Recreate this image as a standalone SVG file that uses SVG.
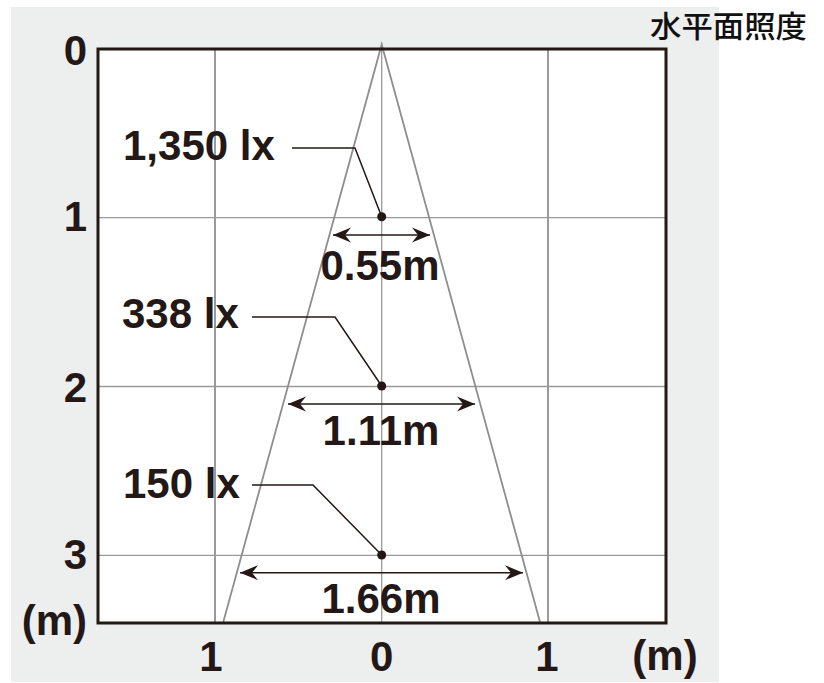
<svg xmlns="http://www.w3.org/2000/svg" width="824" height="683" viewBox="0 0 824 683">
  <style>
    .lbl { font-family: "Liberation Sans", Arial, "Noto Sans CJK JP", sans-serif; font-weight: bold; font-size: 42px; fill: #231815; }
    .grid { stroke: #9a9a9a; fill: none; }
    .cone { stroke: #8e8e8e; stroke-width: 1.8; fill: none; }
    .lead { stroke: #231815; stroke-width: 1.5; fill: none; }
    .dim { stroke: #231815; stroke-width: 1.6; fill: none; marker-start: url(#ah); marker-end: url(#ah); }
    .dot { fill: #231815; }
    .title { font-family: "Noto Sans CJK JP", "Noto Sans CJK SC", sans-serif; font-size: 30px; font-weight: 500; fill: #111111; }
  </style>
  <defs>
    <marker id="ah" markerUnits="userSpaceOnUse" viewBox="-19 -9 20 18" refX="0" refY="0" markerWidth="20" markerHeight="18" orient="auto-start-reverse">
      <path d="M0,0 L-18,-7.5 L-12,0 L-18,7.5 Z" fill="#231815"/>
    </marker>
  </defs>

  <rect x="11" y="7" width="708" height="675" fill="#edeeee"/>
  <rect x="98" y="49" width="568" height="574" fill="#ffffff"/>

  <g id="grid">
    <line class="grid" x1="98" y1="217.7" x2="666" y2="217.7" stroke-width="1.3"/>
    <line class="grid" x1="98" y1="386.5" x2="666" y2="386.5" stroke-width="1.3"/>
    <line class="grid" x1="98" y1="555.3" x2="666" y2="555.3" stroke-width="1.3"/>
    <line class="grid" x1="215" y1="49" x2="215" y2="623" stroke-width="2"/>
    <line class="grid" x1="381.7" y1="49" x2="381.7" y2="623" stroke-width="1.3"/>
    <line class="grid" x1="548" y1="49" x2="548" y2="623" stroke-width="2"/>
  </g>

  <g id="cone">
    <polyline class="cone" points="223.3,622 381.7,44.5 540,622"/>
  </g>

  <rect id="frame" x="98" y="49" width="568" height="574" fill="none" stroke="#231815" stroke-width="3"/>

  <g id="connectors">
    <polyline class="lead" points="292,148 355,148 381.7,216.7"/>
    <polyline class="lead" points="252,317 335,317 381.7,386"/>
    <polyline class="lead" points="252,485 313,485 381.7,555"/>
    <line class="dim" x1="333" y1="235" x2="430" y2="235"/>
    <line class="dim" x1="288" y1="404" x2="475" y2="404"/>
    <line class="dim" x1="240" y1="572.7" x2="523" y2="572.7"/>
  </g>

  <g id="point-1m">
    <circle class="dot" cx="381.7" cy="216.7" r="4.5"/>
    <text class="lbl" x="123" y="160">1,350 lx</text>
    <text class="lbl" x="380" y="280" text-anchor="middle">0.55m</text>
  </g>
  <g id="point-2m">
    <circle class="dot" cx="381.7" cy="386" r="4.5"/>
    <text class="lbl" x="122" y="328">338 lx</text>
    <text class="lbl" x="381" y="445" text-anchor="middle">1.11m</text>
  </g>
  <g id="point-3m">
    <circle class="dot" cx="381.7" cy="555" r="4.5"/>
    <text class="lbl" x="123" y="498">150 lx</text>
    <text class="lbl" x="381" y="613" text-anchor="middle">1.66m</text>
  </g>

  <g id="y-axis">
    <text class="lbl" x="87" y="65" text-anchor="end">0</text>
    <text class="lbl" x="87" y="230.5" text-anchor="end">1</text>
    <text class="lbl" x="87" y="401.5" text-anchor="end">2</text>
    <text class="lbl" x="87" y="569" text-anchor="end">3</text>
    <text class="lbl" x="87" y="635" text-anchor="end">(m)</text>
  </g>
  <g id="x-axis">
    <text class="lbl" x="211" y="670.5" text-anchor="middle">1</text>
    <text class="lbl" x="381.7" y="670.5" text-anchor="middle">0</text>
    <text class="lbl" x="547" y="670.5" text-anchor="middle">1</text>
    <text class="lbl" x="665" y="670" text-anchor="middle">(m)</text>
  </g>

  <g id="title">
    <text class="title" x="650" y="37" textLength="157" lengthAdjust="spacingAndGlyphs">水平面照度</text>
  </g>
</svg>
